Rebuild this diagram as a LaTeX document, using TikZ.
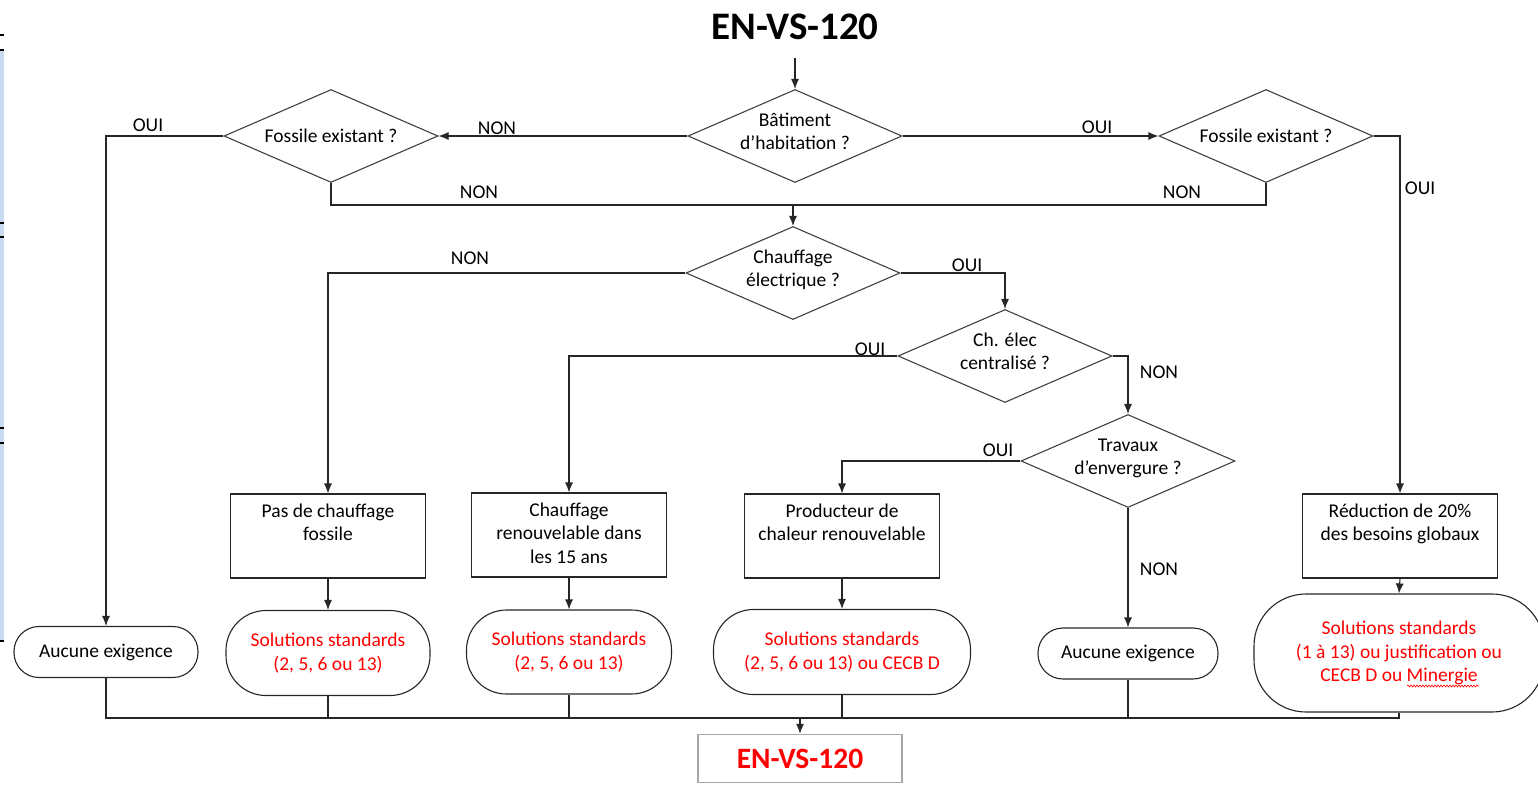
\documentclass[tikz,border=0pt]{standalone}
\usepackage{fontspec}
\setmainfont{Carlito}
\usetikzlibrary{shapes.geometric,arrows.meta,decorations.pathmorphing}
\definecolor{lnc}{HTML}{262626}
\definecolor{shc}{HTML}{404040}
\definecolor{redt}{HTML}{FF0000}
\definecolor{stripc}{HTML}{C6D9F0}
\newcommand{\dtwo}[2]{\makebox[0pt]{\smash{\raisebox{-13.5pt}{\begin{tabular}[b]{@{}c@{}}#1\\#2\end{tabular}}}}}
\newcommand{\done}[1]{\makebox[0pt]{\smash{\raisebox{-6pt}{#1}}}}
\newcommand{\ptext}[1]{\parbox[c][84pt][t]{195pt}{\centering\rule{0pt}{23pt}#1}}
\tikzset{
  base/.style={font=\fontsize{19.5}{23.5}\selectfont, text=black},
  dec/.style={base, diamond, draw=shc, line width=1.1pt, minimum width=214pt, minimum height=93pt, inner sep=0pt},
  procbox/.style={base, rectangle, draw=lnc, line width=1.1pt, minimum width=195pt, minimum height=84pt, inner sep=0pt},
  term/.style={base, rectangle, draw=lnc, line width=1.1pt, rounded corners=#1, inner sep=0pt, align=center},
  lbl/.style={font=\fontsize{19.5}{23.5}\selectfont, inner sep=0pt},
  arr/.style={draw=lnc, line width=1.1pt, -{Latex[length=10pt,width=8pt]}},
  ln/.style={draw=lnc, line width=1.1pt},
  squiggle/.style={draw=redt, line width=0.6pt, decorate, decoration={snake, amplitude=1pt, segment length=3pt}},
}
\begin{document}
\begin{tikzpicture}[x=1pt,y=-1pt]
\useasboundingbox (0,0) rectangle (1538,784);
% left edge strip (cropped page fragment)
\fill[stripc] (0,50) rectangle (4,640);
\foreach \yy in {35,50,223,237,428,443,641} \draw[black,line width=1.5pt] (0,\yy) -- (4,\yy);

% title
\node[font=\fontsize{39}{44}\selectfont\bfseries, inner sep=0pt] (title) at (795,26.5) {EN-VS-120};

% decisions
\node[dec] (bat) at (795,136) {\dtwo{Bâtiment}{d’habitation ?}};
\node[dec] (lfos) at (331,136) {\done{Fossile existant ?}};
\node[dec] (rfos) at (1266,136) {\done{Fossile existant ?}};
\node[dec] (chauf) at (793,273) {\dtwo{Chauffage}{électrique ?}};
\node[dec] (chel) at (1005,356) {\dtwo{Ch. élec}{centralisé ?}};
\node[dec] (trav) at (1128,461) {\dtwo{Travaux}{d’envergure ?}};

% process boxes
\node[procbox] (pas) at (328,536) {\ptext{Pas de chauffage\\fossile}};
\node[procbox] (ren) at (569,535) {\ptext{Chauffage\\renouvelable dans\\les 15 ans}};
\node[procbox] (prod) at (842,536) {\ptext{Producteur de\\chaleur renouvelable}};
\node[procbox] (red) at (1400,536) {\ptext{Réduction de 20\%\\des besoins globaux}};

% terminators
\node[term=25pt, minimum width=184pt, minimum height=51pt] (auc1) at (106,652) {Aucune exigence};
\node[term=40pt, minimum width=204pt, minimum height=85pt, text=redt] (sol1) at (328,653) {Solutions standards\\(2, 5, 6 ou 13)};
\node[term=40pt, minimum width=205pt, minimum height=84pt, text=redt] (sol2) at (569,652) {Solutions standards\\(2, 5, 6 ou 13)};
\node[term=40pt, minimum width=257pt, minimum height=85pt, text=redt] (sol3) at (842,652) {Solutions standards\\(2, 5, 6 ou 13) ou CECB D};
\node[term=25pt, minimum width=180pt, minimum height=51pt] (auc2) at (1128,653.5) {Aucune exigence};
\node[term=52pt, minimum width=290pt, minimum height=118pt, text=redt] (sol4) at (1399,653) {Solutions standards\\(1 à 13) ou justification ou\\CECB D ou Minergie};
\draw[squiggle] ([xshift=8pt,yshift=-33pt]sol4.center) -- ([xshift=80pt,yshift=-33pt]sol4.center);

% final
\node[draw=gray!70, line width=1.5pt, minimum width=204pt, minimum height=48pt, inner sep=0pt, text=redt, font=\fontsize{29.5}{34}\selectfont\bfseries] (envs) at (800,758.5) {EN-VS-120};

% connectors
\draw[arr] ([yshift=-18pt]title.south) -- (bat.north);
\draw[arr] (bat.west) -- (lfos.east);
\draw[arr] (bat.east) -- (rfos.west);
\draw[arr] (lfos.west) -| (auc1.north);
\coordinate (jn) at (793,205);
\draw[ln] (lfos.south) |- (jn) -| (rfos.south);
\draw[arr] (jn) -- (chauf.north);
\draw[arr] (rfos.east) -| (red.north);
\draw[arr] (chauf.west) -| (pas.north);
\draw[arr] (chauf.east) -| (chel.north);
\draw[arr] (chel.west) -| (ren.north);
\draw[arr] (chel.east) -| (trav.north);
\draw[arr] (trav.west) -| (prod.north);
\draw[arr] (trav.south) -- (auc2.north);
\draw[arr] (pas.south) -- (sol1.north);
\draw[arr] (ren.south) -- (sol2.north);
\draw[arr] (prod.south) -- (sol3.north);
\draw[arr] (red.south) -- (sol4.north);

% bottom collector
\coordinate (bl) at (106,718);
\draw[ln] (auc1.south) |- (sol4.south |- bl) -- (sol4.south);
\draw[ln] (sol1.south) -- (sol1.south |- bl);
\draw[ln] (sol2.south) -- (sol2.south |- bl);
\draw[ln] (sol3.south) -- (sol3.south |- bl);
\draw[ln] (auc2.south) -- (auc2.south |- bl);
\draw[arr] (envs.north |- bl) -- (envs.north);

% labels
\node[lbl] (l1) at (497,128) {NON};
\node[lbl] (l2) at (1097,127) {OUI};
\node[lbl] (l3) at (148,125) {OUI};
\node[lbl] (l4) at (479,192) {NON};
\node[lbl] (l5) at (1182,192) {NON};
\node[lbl] (l6) at (1420,188) {OUI};
\node[lbl] (l7) at (470,258) {NON};
\node[lbl] (l8) at (967,265) {OUI};
\node[lbl] (l9) at (870,349) {OUI};
\node[lbl] (l10) at (1159,372) {NON};
\node[lbl] (l11) at (998,450) {OUI};
\node[lbl] (l12) at (1159,569) {NON};
\end{tikzpicture}
\end{document}
